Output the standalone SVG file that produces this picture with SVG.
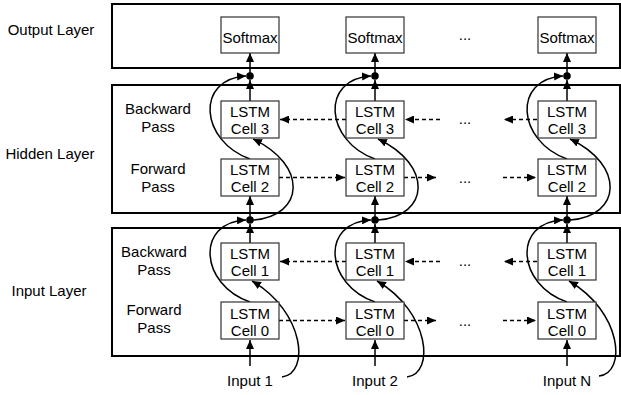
<svg xmlns="http://www.w3.org/2000/svg" width="621" height="395" viewBox="0 0 621 395">
<defs>
<marker id="ah" markerUnits="userSpaceOnUse" markerWidth="9" markerHeight="8" refX="9" refY="4" orient="auto">
<path d="M0,0 L9,4 L0,8 z" fill="#000"/>
</marker>
<style>
text{font-family:"Liberation Sans",Arial,sans-serif;font-size:15px;fill:#000;text-anchor:middle}
.layer{fill:none;stroke:#000;stroke-width:2}
.cell{fill:#fff;stroke:#333;stroke-width:1.2}
.ln{fill:none;stroke:#000;stroke-width:1.5;marker-end:url(#ah)}
.dash{fill:none;stroke:#000;stroke-width:1.5;stroke-dasharray:4 3;marker-end:url(#ah)}
.dot{fill:#000}
</style>
</defs>
<rect width="621" height="395" fill="#fff"/>

<g id="layers">
<g id="output-layer"><rect class="layer" x="112" y="4" width="508" height="64"/><text x="51" y="35">Output Layer</text></g>
<g id="hidden-layer"><rect class="layer" x="112" y="85" width="508" height="128"/><text x="50" y="159">Hidden Layer</text>
<text x="158" y="114">Backward</text><text x="158" y="132">Pass</text>
<text x="158" y="174">Forward</text><text x="158" y="192">Pass</text></g>
<g id="input-layer"><rect class="layer" x="112" y="228" width="508" height="128"/><text x="49" y="296">Input Layer</text>
<text x="154" y="257">Backward</text><text x="154" y="275">Pass</text>
<text x="154" y="315">Forward</text><text x="154" y="333">Pass</text></g>
</g>

<g id="connectors">
<!-- column 1 -->
<line class="ln" x1="250" y1="366" x2="250" y2="340"/>
<line class="ln" x1="250" y1="243" x2="250" y2="224"/>
<line class="ln" x1="250" y1="220" x2="250" y2="196"/>
<line class="ln" x1="250" y1="101" x2="250" y2="80"/>
<line class="ln" x1="250" y1="76" x2="250" y2="53"/>
<path class="ln" d="M250,302 C200,285 195,222 246,220"/>
<path class="ln" d="M250,159 C200,141 195,79 246,76"/>
<path class="ln" d="M282,377 C310,374 305,312 252,281"/>
<path class="ln" d="M253,220 C305,216 308,165 253,139"/>
<!-- column 2 -->
<line class="ln" x1="375" y1="366" x2="375" y2="340"/>
<line class="ln" x1="375" y1="243" x2="375" y2="224"/>
<line class="ln" x1="375" y1="220" x2="375" y2="196"/>
<line class="ln" x1="375" y1="101" x2="375" y2="80"/>
<line class="ln" x1="375" y1="76" x2="375" y2="53"/>
<path class="ln" d="M375,302 C325,285 320,222 371,220"/>
<path class="ln" d="M375,159 C325,141 320,79 371,76"/>
<path class="ln" d="M407,377 C435,374 430,312 377,281"/>
<path class="ln" d="M378,220 C430,216 433,165 378,139"/>
<!-- column 3 -->
<line class="ln" x1="567" y1="366" x2="567" y2="340"/>
<line class="ln" x1="567" y1="243" x2="567" y2="224"/>
<line class="ln" x1="567" y1="220" x2="567" y2="196"/>
<line class="ln" x1="567" y1="101" x2="567" y2="80"/>
<line class="ln" x1="567" y1="76" x2="567" y2="53"/>
<path class="ln" d="M567,302 C517,285 512,222 563,220"/>
<path class="ln" d="M567,159 C517,141 512,79 563,76"/>
<path class="ln" d="M599,376 C627,373 622,312 569,281"/>
<path class="ln" d="M570,220 C622,216 625,165 570,139"/>
<!-- dashed recurrent -->
<line class="dash" x1="346" y1="119.5" x2="280" y2="119.5"/>
<line class="dash" x1="440" y1="119.5" x2="405" y2="119.5"/>
<line class="dash" x1="537" y1="119.5" x2="504" y2="119.5"/>
<line class="dash" x1="279" y1="177.5" x2="345" y2="177.5"/>
<line class="dash" x1="404" y1="177.5" x2="436" y2="177.5"/>
<line class="dash" x1="503" y1="177.5" x2="536" y2="177.5"/>
<line class="dash" x1="346" y1="261.5" x2="280" y2="261.5"/>
<line class="dash" x1="440" y1="261.5" x2="405" y2="261.5"/>
<line class="dash" x1="537" y1="261.5" x2="504" y2="261.5"/>
<line class="dash" x1="279" y1="320.5" x2="345" y2="320.5"/>
<line class="dash" x1="404" y1="320.5" x2="436" y2="320.5"/>
<line class="dash" x1="503" y1="320.5" x2="536" y2="320.5"/>
<!-- junction dots -->
<circle class="dot" cx="250" cy="76" r="3.8"/><circle class="dot" cx="250" cy="220" r="3.8"/>
<circle class="dot" cx="375" cy="76" r="3.8"/><circle class="dot" cx="375" cy="220" r="3.8"/>
<circle class="dot" cx="567" cy="76" r="3.8"/><circle class="dot" cx="567" cy="220" r="3.8"/>
</g>

<g id="ellipses">
<text x="465" y="39.5">...</text>
<text x="465" y="123.5">...</text>
<text x="465" y="183">...</text>
<text x="465" y="266">...</text>
<text x="465" y="326">...</text>
</g>

<g id="softmax-1"><rect class="cell" x="221" y="17" width="58" height="36"/><text x="250" y="42.5">Softmax</text></g>
<g id="softmax-2"><rect class="cell" x="346" y="17" width="58" height="36"/><text x="375" y="42.5">Softmax</text></g>
<g id="softmax-n"><rect class="cell" x="538" y="17" width="58" height="36"/><text x="567" y="42.5">Softmax</text></g>

<g id="cell3-1"><rect class="cell" x="221" y="101" width="58" height="37"/><text x="250" y="117">LSTM</text><text x="250" y="134">Cell 3</text></g>
<g id="cell3-2"><rect class="cell" x="346" y="101" width="58" height="37"/><text x="375" y="117">LSTM</text><text x="375" y="134">Cell 3</text></g>
<g id="cell3-n"><rect class="cell" x="538" y="101" width="58" height="37"/><text x="567" y="117">LSTM</text><text x="567" y="134">Cell 3</text></g>

<g id="cell2-1"><rect class="cell" x="221" y="159" width="58" height="37"/><text x="250" y="175">LSTM</text><text x="250" y="192">Cell 2</text></g>
<g id="cell2-2"><rect class="cell" x="346" y="159" width="58" height="37"/><text x="375" y="175">LSTM</text><text x="375" y="192">Cell 2</text></g>
<g id="cell2-n"><rect class="cell" x="538" y="159" width="58" height="37"/><text x="567" y="175">LSTM</text><text x="567" y="192">Cell 2</text></g>

<g id="cell1-1"><rect class="cell" x="221" y="243" width="58" height="37"/><text x="250" y="259">LSTM</text><text x="250" y="276">Cell 1</text></g>
<g id="cell1-2"><rect class="cell" x="346" y="243" width="58" height="37"/><text x="375" y="259">LSTM</text><text x="375" y="276">Cell 1</text></g>
<g id="cell1-n"><rect class="cell" x="538" y="243" width="58" height="37"/><text x="567" y="259">LSTM</text><text x="567" y="276">Cell 1</text></g>

<g id="cell0-1"><rect class="cell" x="221" y="302" width="58" height="37"/><text x="250" y="318.5">LSTM</text><text x="250" y="335.5">Cell 0</text></g>
<g id="cell0-2"><rect class="cell" x="346" y="302" width="58" height="37"/><text x="375" y="318.5">LSTM</text><text x="375" y="335.5">Cell 0</text></g>
<g id="cell0-n"><rect class="cell" x="538" y="302" width="58" height="37"/><text x="567" y="318.5">LSTM</text><text x="567" y="335.5">Cell 0</text></g>

<g id="input-1"><text x="250" y="386">Input 1</text></g>
<g id="input-2"><text x="375" y="386">Input 2</text></g>
<g id="input-n"><text x="567" y="386">Input N</text></g>
</svg>
